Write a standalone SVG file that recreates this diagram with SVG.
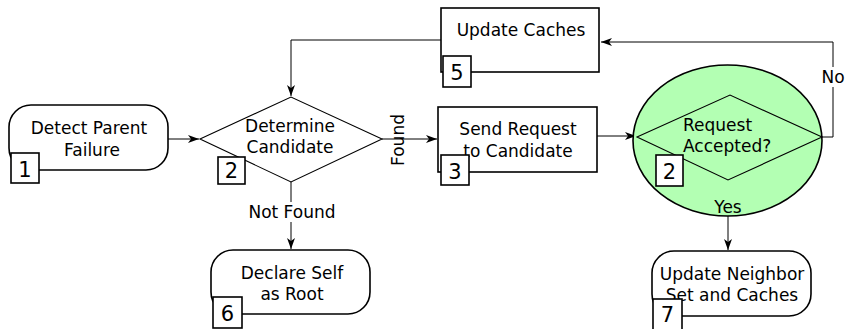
<svg xmlns="http://www.w3.org/2000/svg" width="845" height="329" viewBox="0 0 845 329">
<defs>
<style>
.n{fill:#fff;stroke:#000;stroke-width:1.6}
.d{fill:none;stroke:#000;stroke-width:1.1}
.c{fill:none;stroke:#000;stroke-width:1}
.t{font-family:"DejaVu Sans",sans-serif;font-size:17px;fill:#000;text-anchor:middle}
.lb{fill:#fff;stroke:#000;stroke-width:1.6}
.lt{font-family:"DejaVu Sans",sans-serif;font-size:21px;fill:#000;text-anchor:middle}
</style>
<marker id="ah" markerWidth="12" markerHeight="10" refX="11" refY="4" orient="auto" markerUnits="userSpaceOnUse">
<path d="M0,0 L11,4 L0,8 L3,4 z" fill="#000"/>
</marker>
</defs>
<rect width="845" height="329" fill="#fff"/>
<g id="connectors">
<line class="c" x1="168" y1="139" x2="199" y2="139" marker-end="url(#ah)"/>
<line class="c" x1="382" y1="139" x2="437" y2="139" marker-end="url(#ah)"/>
<line class="c" x1="597" y1="136" x2="636" y2="136" marker-end="url(#ah)"/>
<polyline class="c" points="441,40 291,40 291,96" marker-end="url(#ah)"/>
<polyline class="c" points="822,137 833,137 833,42 601,42" marker-end="url(#ah)"/>
<line class="c" x1="291" y1="182" x2="291" y2="249" marker-end="url(#ah)"/>
<line class="c" x1="728" y1="180" x2="728" y2="250" marker-end="url(#ah)"/>
<g id="lbl-found"><text class="t" transform="translate(404,140) rotate(-90)">Found</text></g>
<g id="lbl-notfound"><rect x="246" y="202" width="94" height="20" fill="#fff"/><text class="t" x="292" y="218">Not Found</text></g>
<g id="lbl-no"><rect x="821" y="67" width="24" height="20" fill="#fff"/><text class="t" x="833" y="83">No</text></g>
</g>
<g id="node1">
<rect class="n" x="9" y="105" width="159" height="65" rx="22"/>
<text class="t" x="89" y="134">Detect Parent</text>
<text class="t" x="92" y="156">Failure</text>
<rect class="lb" x="11" y="153" width="28" height="30"/>
<text class="lt" x="25" y="177">1</text>
</g>
<g id="node2">
<polygon class="d" points="200,139 291,97 382,139 291,182"/>
<text class="t" x="290" y="132">Determine</text>
<text class="t" x="290" y="153">Candidate</text>
<rect class="lb" x="218" y="157" width="27" height="27"/>
<text class="lt" x="231.5" y="178">2</text>
</g>
<g id="node3">
<rect class="n" x="438" y="107" width="159" height="65"/>
<text class="t" x="518" y="135">Send Request</text>
<text class="t" x="518" y="157">to Candidate</text>
<rect class="lb" x="441" y="155" width="28" height="30"/>
<text class="lt" x="455" y="179">3</text>
</g>
<g id="node4">
<ellipse cx="727.5" cy="140.5" rx="94.5" ry="75.5" fill="#b3ffb3" stroke="#000" stroke-width="1.6"/>
<polygon class="d" points="637,137 730,95 822,137 728,180"/>
<text class="t" x="683" y="131" style="text-anchor:start">Request</text>
<text class="t" x="683" y="152" style="text-anchor:start">Accepted?</text>
<rect class="lb" x="656" y="155" width="27" height="31"/>
<text class="lt" x="669.5" y="179">2</text>
<text class="t" x="728" y="213">Yes</text>
</g>
<g id="node5">
<rect class="n" x="441" y="8" width="158" height="64"/>
<text class="t" x="521" y="36">Update Caches</text>
<rect class="lb" x="443" y="56" width="28" height="31"/>
<text class="lt" x="457" y="80">5</text>
</g>
<g id="node6">
<rect class="n" x="211" y="250" width="159" height="64" rx="22"/>
<text class="t" x="292" y="279">Declare Self</text>
<text class="t" x="292" y="300">as Root</text>
<rect class="lb" x="213" y="297" width="29" height="31"/>
<text class="lt" x="227.5" y="321">6</text>
</g>
<g id="node7">
<rect class="n" x="652" y="251" width="159" height="65" rx="22"/>
<text class="t" x="732" y="280">Update Neighbor</text>
<text class="t" x="732" y="301">Set and Caches</text>
<rect class="lb" x="653" y="299" width="29" height="31"/>
<text class="lt" x="667.5" y="322">7</text>
</g>
</svg>
